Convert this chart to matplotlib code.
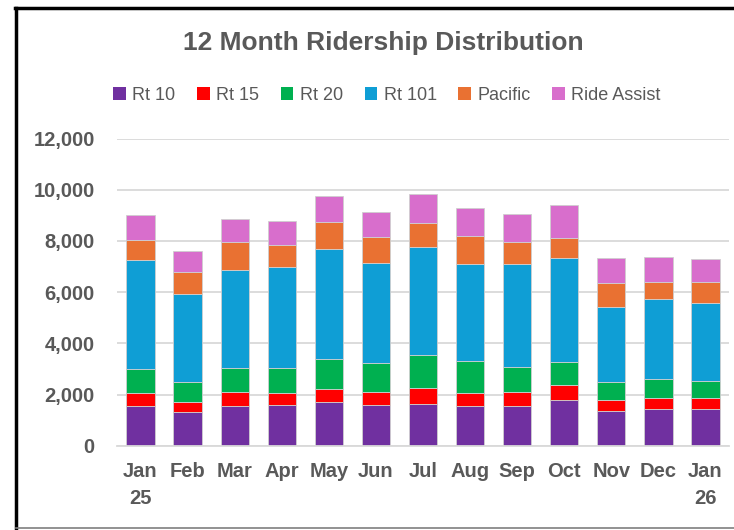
import matplotlib
matplotlib.use("Agg")
import matplotlib.pyplot as plt
from matplotlib.lines import Line2D
import numpy as np

months = ["Jan\n25", "Feb", "Mar", "Apr", "May", "Jun", "Jul",
          "Aug", "Sep", "Oct", "Nov", "Dec", "Jan\n26"]

rt10 = [1540, 1305, 1540, 1590, 1707, 1578, 1617, 1562, 1551, 1773, 1344, 1422, 1445]
rt15 = [510, 390, 546, 457, 508, 531, 648, 508, 535, 586, 429, 453, 418]
rt20 = [940, 805, 961, 1000, 1172, 1121, 1289, 1227, 988, 922, 703, 719, 652]
rt101 = [4270, 3437, 3816, 3945, 4308, 3895, 4196, 3812, 4012, 4039, 2930, 3124, 3047]
pacific = [790, 859, 1082, 859, 1054, 1015, 949, 1094, 882, 793, 937, 664, 820]
ride_assist = [965, 809, 898, 926, 1004, 977, 1144, 1082, 1082, 1289, 1000, 977, 922]

series_names = ["Rt 10", "Rt 15", "Rt 20", "Rt 101", "Pacific", "Ride Assist"]
colors = ["#7030A0", "#FF0000", "#00B050", "#0F9ED5", "#E97132", "#D86ECC"]

text_gray = "#595959"
grid_gray = "#D9D9D9"
font = ["Liberation Sans", "DejaVu Sans"]

fig = plt.figure(figsize=(7.34, 5.30), dpi=100)
ax = fig.add_axes([117 / 734, 1 - 445.7 / 530, 612 / 734, 307.2 / 530])

x = np.arange(len(months))
bottom = np.zeros(len(months))
for name, vals, c in zip(series_names,
                         [rt10, rt15, rt20, rt101, pacific, ride_assist], colors):
    ax.bar(x, vals, 0.6, bottom=bottom, color=c, label=name,
           edgecolor="#CFCFCF", linewidth=0.6, zorder=3)
    bottom += np.array(vals)

ax.set_xlim(-0.5, len(months) - 0.5)
ax.set_ylim(0, 12000)
ax.set_yticks(range(0, 12001, 2000))
ax.set_yticklabels([f"{v:,}" for v in range(0, 12001, 2000)])
ax.set_xticks(x)
ax.set_xticklabels(months, linespacing=1.5)

for lab in ax.get_xticklabels() + ax.get_yticklabels():
    lab.set_fontfamily(font)
    lab.set_fontweight("bold")
    lab.set_fontsize(14.5)
    lab.set_color(text_gray)

ax.tick_params(axis="both", length=0)
ax.tick_params(axis="y", pad=16)
ax.tick_params(axis="x", pad=12)
ax.grid(axis="y", color=grid_gray, linewidth=1.3, zorder=0)
for side in ["top", "right", "left"]:
    ax.spines[side].set_visible(False)
ax.spines["bottom"].set_color(grid_gray)
ax.spines["bottom"].set_linewidth(1.3)
ax.spines["bottom"].set_zorder(4)

fig.text(383.5 / 734, 1 - 43 / 530, "12 Month Ridership Distribution",
         ha="center", va="center", fontsize=19, fontweight="bold",
         color=text_gray, family=font)

leg = fig.legend(loc="center", bbox_to_anchor=(387 / 734, 1 - 95 / 530),
                 ncol=6, frameon=False, handlelength=0.7, handleheight=0.7,
                 handletextpad=0.35, columnspacing=1.2,
                 prop={"family": font, "size": 13})
for t in leg.get_texts():
    t.set_color(text_gray)
for h in leg.legend_handles:
    h.set_edgecolor("none")

# chart frame
fig.add_artist(Line2D([15.5 / 734, 15.5 / 734], [1 - 8 / 530, 2 / 530],
                      color="black", linewidth=2.5, transform=fig.transFigure))
fig.add_artist(Line2D([14.5 / 734, 1.0], [1 - 8 / 530, 1 - 8 / 530],
                      color="black", linewidth=2.5, transform=fig.transFigure))
fig.add_artist(Line2D([15.5 / 734, 1.0], [2 / 530, 2 / 530],
                      color="#7F7F7F", linewidth=1.2, transform=fig.transFigure))

fig.savefig("out.png", dpi=100)
